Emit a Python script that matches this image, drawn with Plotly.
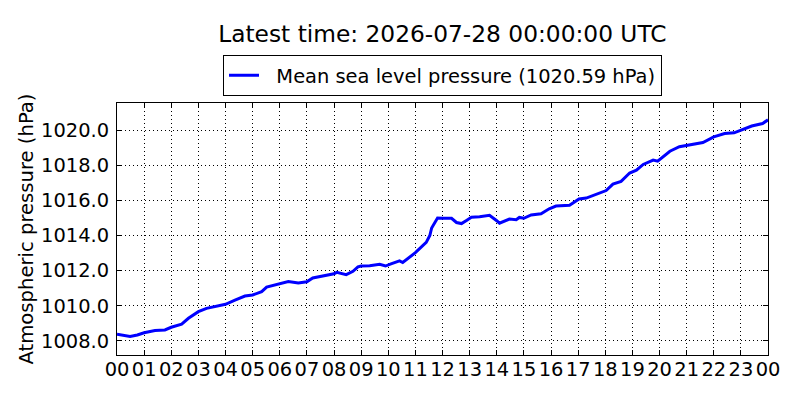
import plotly.graph_objects as go

# readings, 2026-07-27 -> 2026-07-28 UTC
times = [
    "2026-07-27 00:00", "2026-07-27 00:15", "2026-07-27 00:29", "2026-07-27 00:45",
    "2026-07-27 01:00", "2026-07-27 01:24", "2026-07-27 01:46", "2026-07-27 02:00",
    "2026-07-27 02:23", "2026-07-27 02:38", "2026-07-27 03:00", "2026-07-27 03:18",
    "2026-07-27 03:39", "2026-07-27 04:00", "2026-07-27 04:21", "2026-07-27 04:43",
    "2026-07-27 05:00", "2026-07-27 05:20", "2026-07-27 05:31", "2026-07-27 06:00",
    "2026-07-27 06:19", "2026-07-27 06:41", "2026-07-27 07:00", "2026-07-27 07:13",
    "2026-07-27 07:35", "2026-07-27 08:00", "2026-07-27 08:06", "2026-07-27 08:27",
    "2026-07-27 08:42", "2026-07-27 08:53", "2026-07-27 09:00", "2026-07-27 09:19",
    "2026-07-27 09:41", "2026-07-27 09:54", "2026-07-27 10:06", "2026-07-27 10:25",
    "2026-07-27 10:32", "2026-07-27 11:00", "2026-07-27 11:24", "2026-07-27 11:32",
    "2026-07-27 11:36", "2026-07-27 11:49", "2026-07-27 12:00", "2026-07-27 12:20",
    "2026-07-27 12:31", "2026-07-27 12:42", "2026-07-27 12:53", "2026-07-27 13:04",
    "2026-07-27 13:22", "2026-07-27 13:44", "2026-07-27 14:00", "2026-07-27 14:06",
    "2026-07-27 14:28", "2026-07-27 14:43", "2026-07-27 14:50", "2026-07-27 15:00",
    "2026-07-27 15:16", "2026-07-27 15:38", "2026-07-27 15:56", "2026-07-27 16:11",
    "2026-07-27 16:41", "2026-07-27 16:52", "2026-07-27 17:02", "2026-07-27 17:18",
    "2026-07-27 17:33", "2026-07-27 17:55", "2026-07-27 18:02", "2026-07-27 18:17",
    "2026-07-27 18:35", "2026-07-27 18:54", "2026-07-27 19:09", "2026-07-27 19:24",
    "2026-07-27 19:46", "2026-07-27 19:56", "2026-07-27 20:08", "2026-07-27 20:23",
    "2026-07-27 20:44", "2026-07-27 21:03", "2026-07-27 21:18", "2026-07-27 21:36",
    "2026-07-27 22:00", "2026-07-27 22:24", "2026-07-27 22:45", "2026-07-27 23:00",
    "2026-07-27 23:24", "2026-07-27 23:48", "2026-07-28 00:00",
]
pressure = [
    1008.37, 1008.30, 1008.24, 1008.33,
    1008.46, 1008.58, 1008.62, 1008.77,
    1008.95, 1009.28, 1009.66, 1009.85,
    1009.97, 1010.08, 1010.32, 1010.55,
    1010.61, 1010.80, 1011.06, 1011.28,
    1011.38, 1011.29, 1011.36, 1011.58,
    1011.71, 1011.82, 1011.90, 1011.77,
    1011.96, 1012.21, 1012.26, 1012.27,
    1012.36, 1012.26, 1012.38, 1012.55,
    1012.46, 1013.02, 1013.61, 1014.00,
    1014.43, 1015.00, 1014.98, 1014.98,
    1014.74, 1014.68, 1014.86, 1015.04,
    1015.07, 1015.15, 1014.84, 1014.70,
    1014.94, 1014.90, 1015.03, 1014.98,
    1015.17, 1015.24, 1015.52, 1015.68,
    1015.72, 1015.90, 1016.08, 1016.13,
    1016.28, 1016.46, 1016.56, 1016.93,
    1017.08, 1017.56, 1017.72, 1018.05,
    1018.30, 1018.24, 1018.47, 1018.80,
    1019.06, 1019.16, 1019.22, 1019.30,
    1019.62, 1019.81, 1019.85, 1020.00,
    1020.24, 1020.38, 1020.59,
]
yticks = [1008, 1010, 1012, 1014, 1016, 1018, 1020]

font = "DejaVu Sans, Arial, sans-serif"
fs = 19.44  # 14pt at 100 dpi

fig = go.Figure()
fig.add_trace(go.Scatter(
    x=times, y=pressure, mode="lines",
    line=dict(color="#0000ff", width=3),
    name="\u00a0\u00a0Mean sea level pressure (%.2f hPa)" % pressure[-1],
))

# the page puts the figure 8px in from the top-left corner
fig.update_layout(
    width=800, height=400,
    margin=dict(l=109, r=40, t=95, b=53),
    paper_bgcolor="white", plot_bgcolor="white",
    font=dict(family=font, size=fs, color="black"),
    title=dict(text="Latest time: 2026-07-28 00:00:00 UTC", x=0.543, xanchor="center",
               y=0.935, yanchor="middle", yref="container",
               font=dict(size=23.3, color="black")),
    showlegend=True,
    legend=dict(x=0.5, xanchor="center", y=1.19, yanchor="top",
                bordercolor="black", borderwidth=1, bgcolor="white",
                font=dict(size=fs)),
)

fig.update_xaxes(
    type="date", range=["2026-07-27 00:00", "2026-07-28 00:00"],
    dtick=3600000, tickformat="%H",
    showline=True, linecolor="black", linewidth=1, mirror="ticks",
    ticks="inside", ticklen=5, tickcolor="black",
    showgrid=True, gridcolor="black", gridwidth=1, griddash="1px,3px",
    zeroline=False, tickfont=dict(size=fs), ticklabelstandoff=-3,
)
fig.update_yaxes(
    range=[1007.19, 1021.55], tickvals=yticks,
    ticktext=["%.1f" % v for v in yticks],
    showline=True, linecolor="black", linewidth=1, mirror="ticks",
    ticks="inside", ticklen=5, tickcolor="black",
    showgrid=True, gridcolor="black", gridwidth=1, griddash="1px,3px",
    zeroline=False, tickfont=dict(size=fs), ticklabelstandoff=3,
    title=dict(text="Atmospheric pressure (hPa)", font=dict(size=19.6), standoff=2),
)

fig.write_html("out.html")
